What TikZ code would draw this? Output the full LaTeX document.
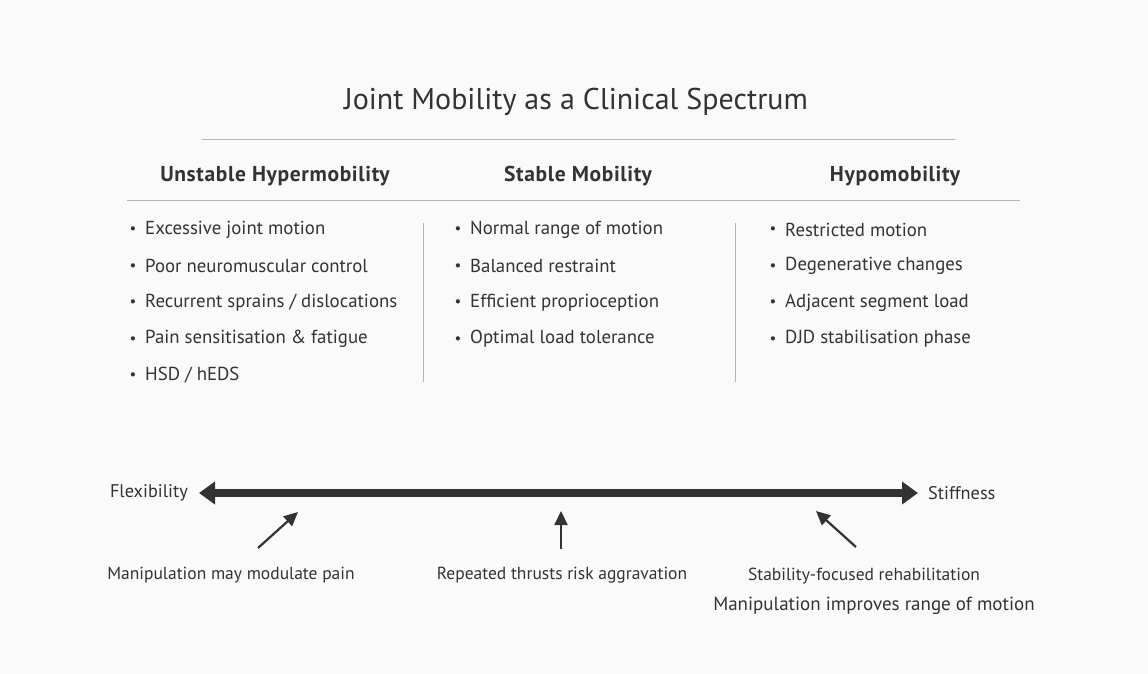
\documentclass[tikz,border=0pt]{standalone}
\usepackage{fontspec}
\setmainfont{PT Sans}
\usetikzlibrary{arrows.meta}
\definecolor{ink}{HTML}{333333}
\definecolor{rule}{HTML}{B4B4B4}
\definecolor{paper}{HTML}{FAFAFA}
\begin{document}
\begin{tikzpicture}[x=1pt,y=-1pt,
  every node/.style={text=ink,inner sep=0pt},
  title/.style={font=\fontsize{30}{34}\selectfont},
  head/.style={font=\bfseries\fontsize{21.5}{25}\selectfont\addfontfeature{LetterSpace=3}},
  item/.style={anchor=west,font=\fontsize{18.8}{22}\selectfont},
  dot/.style={anchor=center,font=\fontsize{15}{20}\selectfont},
  note/.style={font=\fontsize{17.5}{21}\selectfont},
  divider/.style={draw=rule,line width=1pt},
  pointer/.style={draw=ink,line width=2.2pt,-{Triangle[length=14pt,width=13pt]}}]
\fill[paper] (0,0) rectangle (1148,673);
\useasboundingbox (0,0) rectangle (1148,673);

% title and rules
\node[title] (title) at (576,102) {Joint Mobility as a Clinical Spectrum};
\draw[divider] (202,139) -- (955,139);
\node[head] (h1) at (275,176) {Unstable Hypermobility};
\node[head] (h2) at (578,176) {Stable Mobility};
\node[head] (h3) at (895,176) {Hypomobility};
\draw[divider] (127,200) -- (1020,200);
\draw[divider] (423,223) -- (423,382);
\draw[divider] (735,223) -- (735,382);

% left column
\foreach \t [count=\i] in {Excessive joint motion,Poor neuromuscular control,Recurrent sprains / dislocations,Pain sensitisation \& fatigue,HSD / hEDS}{
  \node[dot] (ad\i) at (133,{230.5+36.5*(\i-1)}) {•};
  \node[item] (a\i) at (145,{229.5+36.5*(\i-1)}) {\t};
}
% middle column
\foreach \t [count=\i] in {Normal range of motion,Balanced restraint,Efficient proprioception,Optimal load tolerance}{
  \node[dot] (bd\i) at (458,{230.5+36.5*(\i-1)}) {•};
  \node[item] (b\i) at (470,{229.5+36.5*(\i-1)}) {\t};
}
% right column
\foreach \t [count=\i] in {Restricted motion,Degenerative changes,Adjacent segment load,DJD stabilisation phase}{
  \node[dot] (cd\i) at (773,{230.5+36.5*(\i-1)}) {•};
  \node[item] (c\i) at (785,{229.5+36.5*(\i-1)}) {\t};
}

% spectrum axis
\node[note,anchor=east,font=\fontsize{18.3}{22}\selectfont] (flex) at (188,493) {Flexibility};
\node[note,anchor=west,font=\fontsize{18.3}{22}\selectfont] (stiff) at (928,493) {Stiffness};
\coordinate (axL) at (199,493);
\coordinate (axR) at (918,493);
\draw[draw=ink,line width=8pt,{Triangle[length=16pt,width=22pt]}-{Triangle[length=16pt,width=22pt]}] (axL) -- (axR);

% pointers and their notes
\node[note] (n1) at (231,575) {Manipulation may modulate pain};
\node[note] (n2) at (562,575) {Repeated thrusts risk aggravation};
\node[note] (n3) at (864,576) {Stability-focused rehabilitation};
\node[note,font=\fontsize{19}{22}\selectfont] (n4) at (874,606) {Manipulation improves range of motion};
\coordinate (p1s) at (258,548); \coordinate (p1e) at (298,512);
\coordinate (p2s) at (561,549); \coordinate (p2e) at (561,511);
\coordinate (p3s) at (856,547); \coordinate (p3e) at (816,511);
\draw[pointer] (p1s) -- (p1e);
\draw[pointer] (p2s) -- (p2e);
\draw[pointer] (p3s) -- (p3e);
\end{tikzpicture}
\end{document}
